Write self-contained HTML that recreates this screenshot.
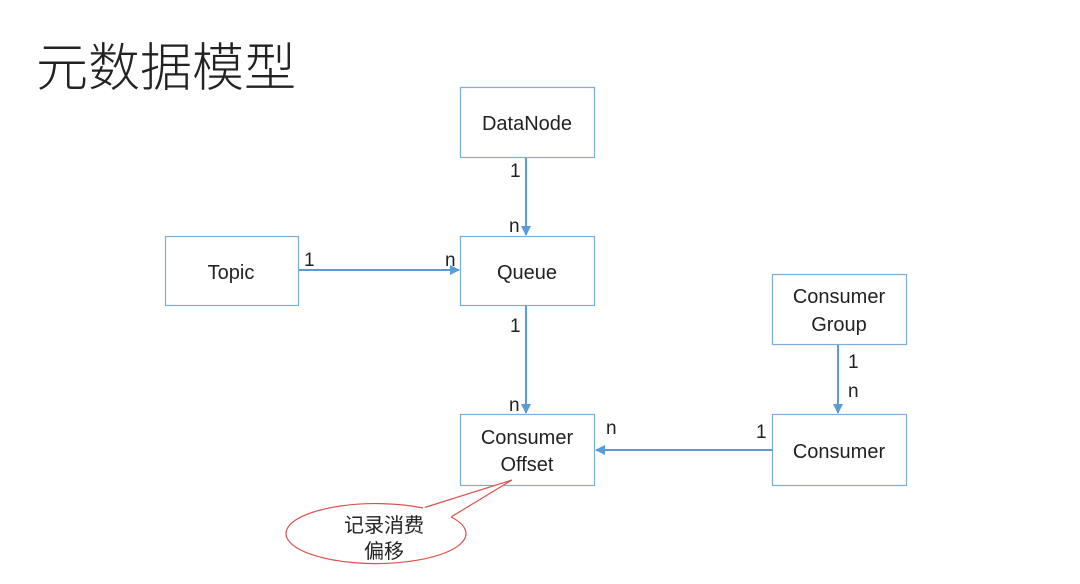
<!DOCTYPE html>
<html><head><meta charset="utf-8"><style>
body{margin:0;width:1080px;height:579px;background:#fff;overflow:hidden;font-family:"Liberation Sans","Noto Sans CJK SC",sans-serif}
</style></head><body>
<svg width="1080" height="579" xmlns="http://www.w3.org/2000/svg" font-family="Liberation Sans, Noto Sans CJK SC, sans-serif">
<defs><marker id="a" markerWidth="10" markerHeight="10" refX="9" refY="5" orient="auto" markerUnits="userSpaceOnUse"><path d="M0,0 L10,5 L0,10 z" fill="#5b9bd5"/></marker></defs>
<text x="36" y="86" font-size="52" fill="#222" font-family="Noto Sans CJK SC, sans-serif" font-weight="300">元数据模型</text>
<g fill="#fff" stroke="#7aaddc" stroke-width="1.2">
<rect x="460.5" y="87.5" width="134" height="70"/>
<rect x="165.5" y="236.5" width="133" height="69"/>
<rect x="460.5" y="236.5" width="134" height="69"/>
<rect x="772.5" y="274.5" width="134" height="70"/>
<rect x="460.5" y="414.5" width="134" height="71"/>
<rect x="772.5" y="414.5" width="134" height="71"/>
</g>
<g stroke="#5b9bd5" stroke-width="2" fill="none" marker-end="url(#a)">
<line x1="526" y1="158" x2="526" y2="235"/>
<line x1="299" y1="270" x2="459" y2="270"/>
<line x1="526" y1="306" x2="526" y2="413"/>
<line x1="838" y1="345" x2="838" y2="413"/>
<line x1="772" y1="450" x2="596" y2="450"/>
</g>
<g font-size="20" fill="#222" text-anchor="middle">
<text x="527" y="130">DataNode</text>
<text x="231" y="279">Topic</text>
<text x="527" y="279">Queue</text>
<text x="839" y="303">Consumer</text>
<text x="839" y="331">Group</text>
<text x="527" y="444">Consumer</text>
<text x="527" y="471">Offset</text>
<text x="839" y="458">Consumer</text>
</g>
<g font-size="19" fill="#222">
<text x="510" y="177">1</text><text x="509" y="232">n</text>
<text x="304" y="266">1</text><text x="445" y="266">n</text>
<text x="510" y="332">1</text><text x="509" y="411">n</text>
<text x="848" y="368">1</text><text x="848" y="397">n</text>
<text x="606" y="434">n</text><text x="756" y="438">1</text>
</g>
<path d="M423,508 L512,480 L451,517 A90,30 0 1 1 423,508 Z" fill="#fff" stroke="#d9534f" stroke-width="1.2"/>
<path d="M423,508 A90,30 0 0 1 451,517" fill="#fff" stroke="#fff" stroke-width="2"/>
<g font-size="20" fill="#222" text-anchor="middle" font-family="Noto Sans CJK SC, sans-serif">
<text x="384" y="532">记录消费</text>
<text x="384" y="558">偏移</text>
</g>
</svg>
</body></html>
